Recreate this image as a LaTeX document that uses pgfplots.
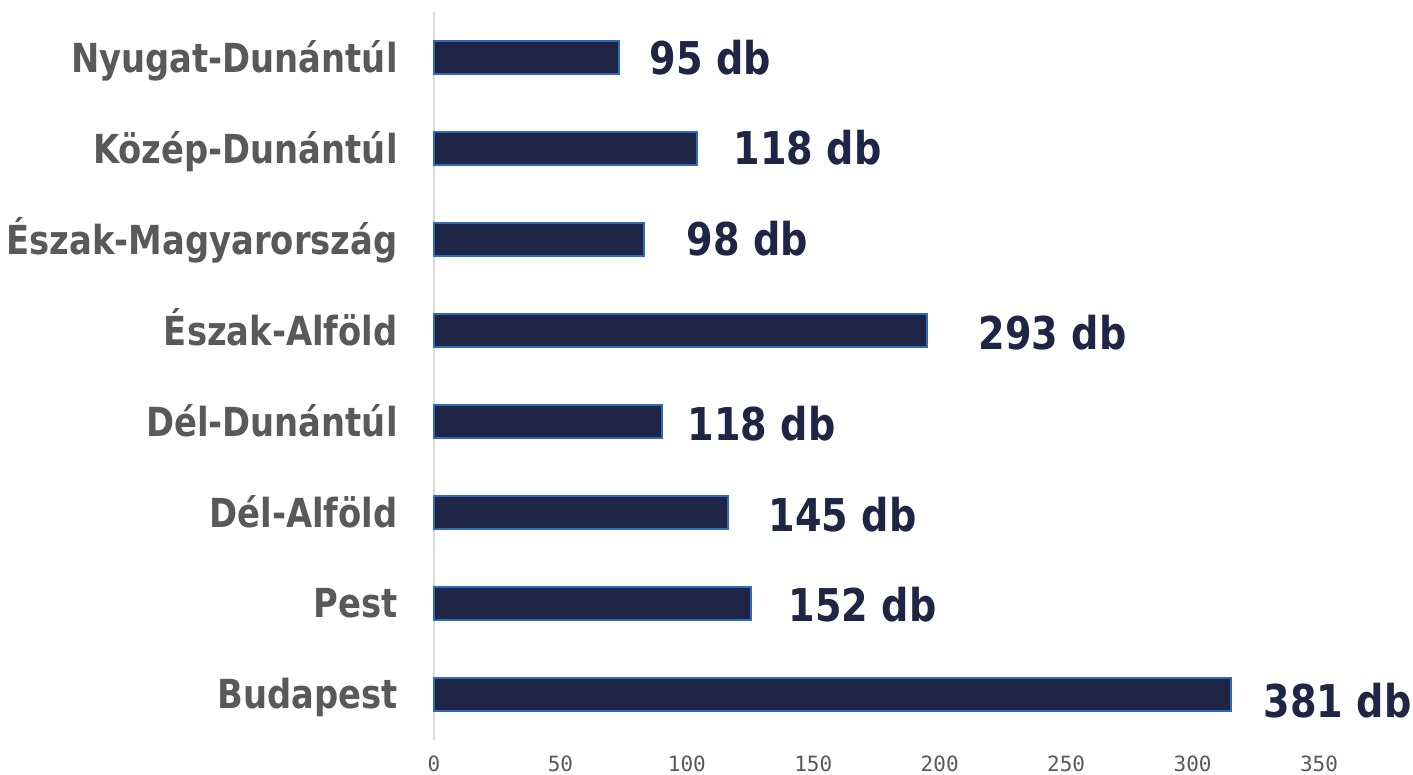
\documentclass[border=0pt]{standalone}
\usepackage{pgfplots}
\pgfplotsset{compat=1.18}
\usepackage{pgfplotstable}
\usepackage{fontspec}
\setmainfont{DejaVu Sans}
\newfontfamily\labfont[FakeStretch=0.845]{DejaVu Sans}
\newfontfamily\monofont{DejaVu Sans Mono}
\definecolor{barfill}{HTML}{1F2544}
\definecolor{barline}{HTML}{2F69C0}
\definecolor{catgray}{HTML}{595959}
\definecolor{tickgray}{HTML}{595959}
\definecolor{axgray}{HTML}{D9D9D9}
\pgfplotstableread[col sep=comma]{
y,x,lab,dx,dy
7,73.2,95 db,15,0
6,104.0,118 db,18,0.5
5,83.0,98 db,21,0.5
4,195.0,293 db,25.5,-1.25
3,90.2,118 db,12.5,-1.25
2,116.3,145 db,20,-1
1,125.4,152 db,18.5,-0.75
0,315.2,381 db,16,-3
}\datatab
\begin{document}
\begin{tikzpicture}
\begin{axis}[
  at={(0,0)}, anchor=south west,
  scale only axis,
  width=442.5pt, height=364pt,
  xmin=0, xmax=350, ymin=-0.5, ymax=7.5,
  clip=false,
  axis x line=bottom, axis y line=left,
  axis line style={-},
  x axis line style={draw=none},
  y axis line style={draw=axgray, line width=1pt},
  xtick={0,50,...,350},
  ytick={0,...,7},
  yticklabels={Budapest,Pest,Dél-Alföld,Dél-Dunántúl,Észak-Alföld,Észak-Magyarország,Közép-Dunántúl,Nyugat-Dunántúl},
  major tick length=0pt,
  tick style={draw=none},
  yticklabel style={anchor=base east, inner sep=0pt, xshift=-18pt, yshift=-7.25pt,
    font=\fontsize{20}{24}\selectfont\labfont\bfseries, text=catgray},
  xticklabel style={anchor=north, inner sep=0pt, yshift=-8pt,
    font=\fontsize{10.5}{12}\selectfont\monofont, text=tickgray},
  /pgf/number format/assume math mode=true,
  xbar, bar width=16.5pt,
  point meta=explicit symbolic,
  nodes near coords,
  visualization depends on={\thisrow{dx} \as \dx},
  visualization depends on={\thisrow{dy} \as \dy},
  nodes near coords style={anchor=west, inner sep=0pt, xshift=\dx pt, yshift=\dy pt,
    font=\fontsize{22.6}{26}\selectfont\labfont\bfseries, text=barfill},
]
\addplot[fill=barfill, draw=barline, line width=0.75pt] table[x=x, y=y, meta=lab] {\datatab};
\end{axis}
\pgfresetboundingbox
\path (-217pt,-17.5pt) rectangle (489.5pt,370pt);
\end{tikzpicture}
\end{document}
